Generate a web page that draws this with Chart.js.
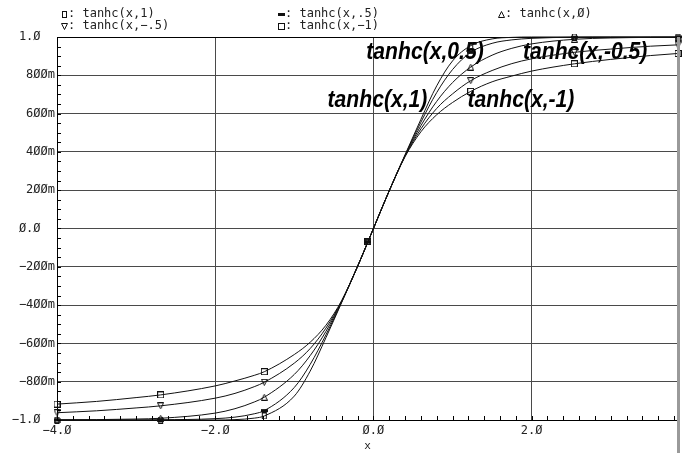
<!DOCTYPE html>
<html>
<head>
<meta charset="utf-8">
<script src="https://cdn.jsdelivr.net/npm/chart.js@4.4.0/dist/chart.umd.min.js"></script>
<style>
  html, body { margin: 0; padding: 0; background: #fff; }
  #wrap { width: 685px; height: 453px; }
</style>
</head>
<body>
<div id="wrap"><canvas id="myChart" width="685" height="453"></canvas></div>
<script>
// x samples shared by every curve (markers sit on the 7 evenly spaced ones)
const xValues = [-4.0, -3.5, -3.0, -2.69, -2.0, -1.75, -1.5, -1.38, -1.0, -0.8, -0.6, -0.4, -0.2, -0.07,
                 0.0, 0.2, 0.4, 0.6, 0.8, 1.0, 1.23, 1.5, 1.75, 2.0, 2.54, 3.0, 3.5, 3.85];
const markerIndex = [0, 3, 7, 13, 20, 24, 27];

const tanhc1 = [-1.0, -1.0, -1.0, -1.0, -1.0, -0.998, -0.99, -0.979, -0.875, -0.745, -0.57, -0.385, -0.198, -0.07,
                0.0, 0.198, 0.385, 0.57, 0.745, 0.875, 0.955, 0.99, 0.998, 1.0, 1.0, 1.0, 1.0, 1.0];
const tanhc05 = [-1.0, -1.0, -1.0, -0.999, -0.993, -0.985, -0.967, -0.951, -0.83, -0.71, -0.555, -0.383, -0.198, -0.07,
                 0.0, 0.198, 0.383, 0.555, 0.71, 0.83, 0.92, 0.967, 0.985, 0.993, 0.999, 1.0, 1.0, 1.0];
const tanhc0 = [-0.999, -0.998, -0.995, -0.991, -0.964, -0.941, -0.905, -0.881, -0.762, -0.664, -0.537, -0.38, -0.197, -0.07,
                0.0, 0.197, 0.38, 0.537, 0.664, 0.762, 0.843, 0.905, 0.941, 0.964, 0.988, 0.995, 0.998, 0.999];
const tanhcM05 = [-0.962, -0.952, -0.937, -0.926, -0.886, -0.861, -0.825, -0.803, -0.703, -0.627, -0.52, -0.378, -0.197, -0.07,
                  0.0, 0.197, 0.378, 0.52, 0.627, 0.703, 0.772, 0.825, 0.861, 0.886, 0.92, 0.937, 0.952, 0.959];
const tanhcM1 = [-0.917, -0.903, -0.883, -0.869, -0.822, -0.796, -0.766, -0.748, -0.658, -0.594, -0.505, -0.375, -0.197, -0.07,
                 0.0, 0.197, 0.375, 0.505, 0.594, 0.658, 0.716, 0.766, 0.796, 0.822, 0.86, 0.883, 0.903, 0.914];

const seriesNames = ['tanhc(x,1)', 'tanhc(x,.5)', 'tanhc(x,\u00d8)', 'tanhc(x,\u2212.5)', 'tanhc(x,\u22121)'];
const xTickValues = [-4, -2, 0, 2];
const xTickLabels = ['\u22124.\u00d8', '\u22122.\u00d8', '\u00d8.\u00d8', '2.\u00d8'];
const yTickValues = [-1, -0.8, -0.6, -0.4, -0.2, 0, 0.2, 0.4, 0.6, 0.8, 1];
const yTickLabels = ['\u22121.\u00d8', '\u22128\u00d8\u00d8m', '\u22126\u00d8\u00d8m', '\u22124\u00d8\u00d8m', '\u22122\u00d8\u00d8m',
                     '\u00d8.\u00d8', '2\u00d8\u00d8m', '4\u00d8\u00d8m', '6\u00d8\u00d8m', '8\u00d8\u00d8m', '1.\u00d8'];
const curveNotes = ['tanhc(x,0.5)', 'tanhc(x,-0.5)', 'tanhc(x,1)', 'tanhc(x,-1)'];

const series = [tanhc1, tanhc05, tanhc0, tanhcM05, tanhcM1];

// note anchors (data coords) and legend slots (pixels)
const notePos = [[-0.09, 0.92], [1.89, 0.92], [-0.58, 0.67], [1.19, 0.67]];
const legendSlots = [[64, 14], [281, 14], [501, 14], [64, 26], [281, 26]];

const SMALL = '12px "DejaVu Sans Mono", monospace';

function makeMarker(kind) {
    const c = document.createElement('canvas');
    c.width = 7; c.height = 7;
    const g = c.getContext('2d');
    g.strokeStyle = '#111';
    g.fillStyle = '#111';
    g.lineWidth = 1;
    if (kind === 'tallRect') {
        g.strokeRect(1.5, 0.5, 4, 6);
    } else if (kind === 'bar') {
        g.fillRect(0, 2, 7, 3);
    } else if (kind === 'triUp') {
        g.beginPath(); g.moveTo(3.5, 0.5); g.lineTo(6.5, 6.5); g.lineTo(0.5, 6.5); g.closePath(); g.stroke();
    } else if (kind === 'triDown') {
        g.beginPath(); g.moveTo(0.5, 0.5); g.lineTo(6.5, 0.5); g.lineTo(3.5, 6.5); g.closePath(); g.stroke();
    } else {
        g.strokeRect(0.5, 0.5, 6, 6);
    }
    return c;
}
const markers = ['tallRect', 'bar', 'triUp', 'triDown', 'square'].map(makeMarker);

const decorations = {
    id: 'decorations',
    beforeDatasetsDraw(chart) {
        const { ctx, scales } = chart;
        ctx.save();
        ctx.fillStyle = '#000';
        ctx.font = 'italic bold 24px "Liberation Sans Narrow", "Liberation Sans", Arial, sans-serif';
        ctx.textBaseline = 'middle';
        ctx.textAlign = 'left';
        curveNotes.forEach((t, i) => {
            const px = scales.x.getPixelForValue(notePos[i][0]);
            const py = scales.y.getPixelForValue(notePos[i][1]);
            // squeeze horizontally, the original lettering is condensed
            ctx.save();
            ctx.translate(px, py);
            ctx.scale(0.88, 1);
            ctx.fillText(t, 0, 0);
            ctx.restore();
        });
        ctx.restore();
    },
    afterDraw(chart) {
        const { ctx, chartArea, scales } = chart;
        ctx.save();
        // minor ticks on the axes, pointing inward
        ctx.strokeStyle = '#000';
        ctx.lineWidth = 1;
        ctx.beginPath();
        for (let v = -4; v < 3.85; v += 0.2) {
            const px = Math.round(scales.x.getPixelForValue(v)) + 0.5;
            ctx.moveTo(px, chartArea.bottom);
            ctx.lineTo(px, chartArea.bottom - 4);
        }
        for (let v = -1; v <= 1.001; v += 0.05) {
            const py = Math.round(scales.y.getPixelForValue(v)) + 0.5;
            ctx.moveTo(chartArea.left, py);
            ctx.lineTo(chartArea.left + 4, py);
        }
        ctx.stroke();
        // grey bar down the right side
        ctx.fillStyle = '#9a9a9a';
        ctx.fillRect(Math.round(chartArea.right) - 1, Math.round(chartArea.top), 3, chart.height - chartArea.top);
        // legend, two rows
        ctx.font = SMALL;
        ctx.fillStyle = '#222';
        ctx.textBaseline = 'middle';
        ctx.textAlign = 'left';
        seriesNames.forEach((name, i) => {
            const [lx, ly] = legendSlots[i];
            ctx.drawImage(markers[i], lx - 3, ly - 3);
            ctx.fillText(': ' + name, lx + 4, ly);
        });
        ctx.restore();
    }
};

const ctx = document.getElementById('myChart').getContext('2d');
new Chart(ctx, {
    type: 'line',
    data: {
        datasets: series.map((s, i) => ({
            label: seriesNames[i],
            data: xValues.map((x, j) => ({ x: x, y: s[j] })),
            borderColor: '#111',
            borderWidth: 1,
            pointStyle: markers[i],
            pointRadius: c => markerIndex.includes(c.dataIndex) ? 3 : 0,
            pointHoverRadius: 0,
            fill: false,
            cubicInterpolationMode: 'monotone',
            clip: 4
        }))
    },
    options: {
        responsive: false,
        animation: false,
        events: [],
        layout: { padding: { top: 37, right: 7, left: 0, bottom: 0 } },
        plugins: {
            legend: { display: false },
            tooltip: { enabled: false }
        },
        scales: {
            x: {
                type: 'linear',
                min: -4,
                max: 3.85,
                afterBuildTicks: s => { s.ticks = xTickValues.map(v => ({ value: v })); },
                afterFit: s => { s.height = 33; },
                ticks: {
                    callback: (v, i) => xTickLabels[i],
                    font: { family: '"DejaVu Sans Mono", monospace', size: 12 },
                    color: '#222',
                    padding: 4,
                    maxRotation: 0,
                    autoSkip: false
                },
                grid: { color: '#4a4a4a', drawTicks: false },
                border: { color: '#000' },
                title: {
                    display: true,
                    text: 'x',
                    color: '#222',
                    font: { family: '"DejaVu Sans Mono", monospace', size: 11 },
                    padding: { top: 0, bottom: 0 }
                }
            },
            y: {
                type: 'linear',
                min: -1,
                max: 1,
                afterBuildTicks: s => { s.ticks = yTickValues.map(v => ({ value: v })); },
                afterFit: s => { s.width = 57; },
                ticks: {
                    // labels without a unit letter keep its slot blank
                    callback: (v, i) => yTickLabels[i].endsWith('m') ? yTickLabels[i] : yTickLabels[i] + '  ',
                    font: { family: '"DejaVu Sans Mono", monospace', size: 12 },
                    color: '#222',
                    padding: 2,
                    autoSkip: false
                },
                grid: {
                    color: c => (c.tick && c.tick.value === 1) ? '#000' : '#4a4a4a',
                    drawTicks: false
                },
                border: { color: '#000' }
            }
        }
    },
    plugins: [decorations]
});
</script>
</body>
</html>
